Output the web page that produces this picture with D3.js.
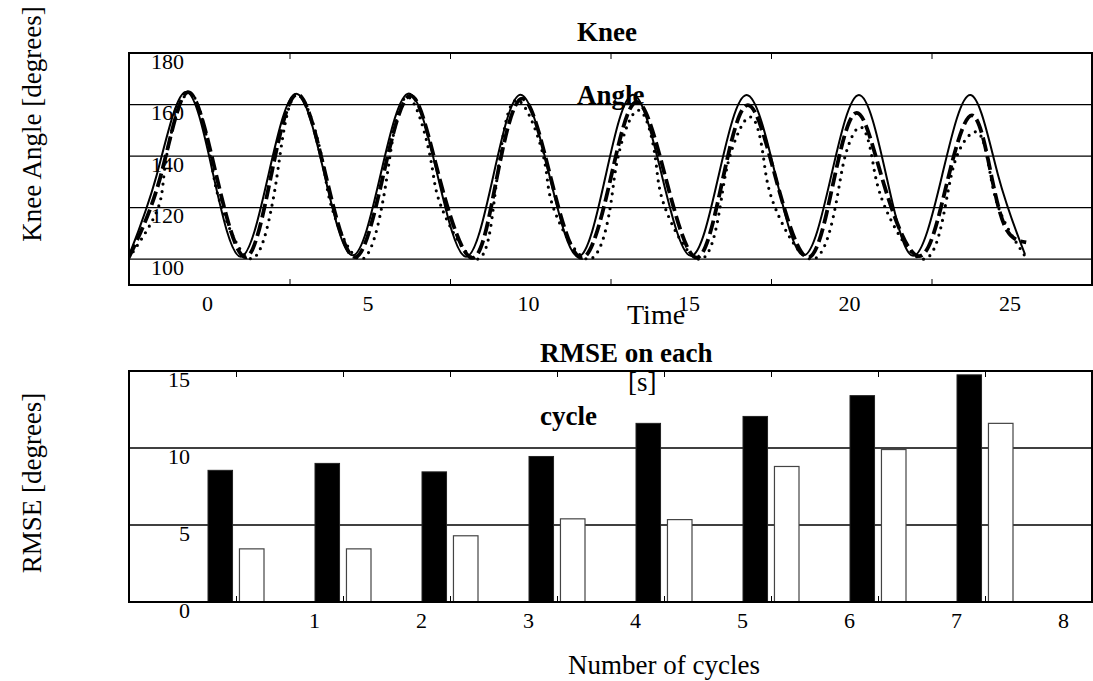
<!DOCTYPE html>
<html>
<head>
<meta charset="utf-8">
<script src="https://cdn.jsdelivr.net/npm/d3@7"></script>
<style>
  body { margin: 0; background: #fff; }
  text { font-family: "Liberation Serif", "Times New Roman", serif; fill: #000; }
</style>
</head>
<body>
<div id="chart"></div>
<script>
// knee angle, [time s, degrees]
const refAngle = [[-5.0,101.5],[-4.13,133],[-3.24,164.9],[-2.38,133],[-1.52,101],[-0.66,132.5],[0.21,164.2],[1.09,132.8],
  [1.97,101.5],[2.84,133],[3.72,164.3],[4.61,132.7],[5.50,101],[6.35,132.4],[7.20,163.8],[8.10,132.4],[9.00,101],
  [9.85,132.4],[10.70,163.8],[11.60,132.5],[12.51,101.3],[13.37,132.5],[14.24,163.7],[15.14,132.6],[16.02,101.5],
  [16.88,132.6],[17.74,163.7],[18.59,132.5],[19.43,101.3],[20.33,132.5],[21.22,163.7],[22.07,132.8],[22.91,102]];
const dashAngle = [[-5.0,100.8],[-4.02,132],[-3.17,164.8],[-2.27,132],[-1.37,100.8],[-0.58,132],[0.24,164],[1.14,132],
  [2.04,100.8],[2.91,132],[3.77,163.5],[4.66,132],[5.69,100.5],[6.45,131],[7.25,162.3],[8.15,131],[9.10,100.5],
  [9.99,130.5],[10.82,161],[11.74,130.5],[12.68,100.6],[13.48,130],[14.28,159.8],[15.18,130],[16.15,100.7],
  [16.92,128.5],[17.67,156.8],[18.52,129],[19.61,101.2],[20.46,128.5],[21.26,155.8],[21.88,131.5],[22.36,111],[22.95,106.5]];
const dotAngle = [[-5.0,100.5],[-4.09,120],[-3.83,140],[-3.12,164.5],[-2.47,140],[-2.11,120],[-1.20,100.2],
  [-0.56,120],[-0.30,140],[0.24,164],[1.00,140],[1.32,120],[2.22,100],[2.87,120],[3.13,140],[3.67,163],[4.38,140],
  [4.74,120],[5.83,100],[6.35,120],[6.56,140],[7.08,161.7],[7.91,140],[8.22,120],[9.31,100],[9.99,120],[10.24,140],
  [10.87,157.8],[11.39,140],[11.70,120],[12.78,100],[13.41,120],[13.72,140],[14.35,155.2],[14.76,140],[15.13,120],
  [16.27,100],[17.00,120],[17.31,140],[17.78,151.3],[18.14,140],[18.56,120],[19.74,100],[20.42,120],[20.79,140],
  [21.36,149.4],[21.73,140],[22.09,120],[22.91,101.3]];
const timeTicks = [0, 5, 10, 15, 20, 25];
const angleTicks = [100, 120, 140, 160, 180];

// RMSE per cycle
const cycles = [1, 2, 3, 4, 5, 6, 7, 8];
const rmseBlack = [8.55, 9.0, 8.45, 9.45, 11.6, 12.05, 13.4, 14.75];
const rmseWhite = [3.45, 3.45, 4.3, 5.4, 5.35, 8.8, 9.9, 11.6];
const rmseTicks = [0, 5, 10, 15];

const width = 1093, height = 681;
const serif = '"Liberation Serif", "Times New Roman", serif';
const svg = d3.select('#chart').append('svg')
    .attr('width', width)
    .attr('height', height);

// d3.axis sets its own font on the group, so set ours after the call
function styleTicks(g, tx, ty) {
    g.attr('font-family', serif).attr('font-size', 22);
    g.select('.domain').remove();
    g.selectAll('text').attr('x', tx).attr('y', ty).attr('dy', 0).attr('fill', '#000');
}

// ---------- top: knee angle ----------
const x = d3.scaleLinear().domain([-5, 25]).range([129, 1092]);
const y = d3.scaleLinear().domain([90, 180]).range([285, 53]);

svg.append('g')
    .selectAll('line')
    .data(angleTicks)
    .enter().append('line')
      .attr('x1', 129).attr('x2', 1092)
      .attr('y1', d => y(d)).attr('y2', d => y(d))
      .attr('stroke', '#000').attr('stroke-width', 1.3);

svg.append('clipPath').attr('id', 'clipTop')
  .append('rect').attr('x', 129).attr('y', 53).attr('width', 963).attr('height', 232);

const line = d3.line()
    .x(d => x(d[0]))
    .y(d => y(d[1]))
    .curve(d3.curveNatural);

const curves = svg.append('g').attr('clip-path', 'url(#clipTop)');
curves.append('path').datum(refAngle)
    .attr('d', line).attr('fill', 'none')
    .attr('stroke', '#000').attr('stroke-width', 2);
curves.append('path').datum(dashAngle)
    .attr('d', line).attr('fill', 'none')
    .attr('stroke', '#000').attr('stroke-width', 3.8)
    .attr('stroke-dasharray', '14,5');
curves.append('path').datum(dotAngle)
    .attr('d', line).attr('fill', 'none')
    .attr('stroke', '#000').attr('stroke-width', 3.2)
    .attr('stroke-linecap', 'round')
    .attr('stroke-dasharray', '0,7.5');

// x axis (labels sit left of their tick marks, as in the picture)
svg.append('g')
    .attr('transform', `translate(0,285)`)
    .call(d3.axisBottom(x).tickValues(timeTicks).tickSizeInner(-6).tickSizeOuter(0))
    .call(styleTicks, -82.5, 26);

svg.append('g')
    .attr('transform', `translate(0,53)`)
    .call(d3.axisTop(x).tickValues(timeTicks).tickSizeInner(-6).tickSizeOuter(0).tickFormat(''))
    .call(g => g.select('.domain').remove());

svg.append('g')
    .attr('transform', `translate(129,0)`)
    .call(d3.axisLeft(y).tickValues(angleTicks).tickSize(0))
    .call(styleTicks, 55, 15);

svg.append('rect')
    .attr('x', 129).attr('y', 53).attr('width', 963).attr('height', 232)
    .attr('fill', 'none').attr('stroke', '#000').attr('stroke-width', 2);

svg.append('text').attr('x', 577).attr('y', 41)
    .style('font-size', '27px').style('font-weight', 'bold').text('Knee');
svg.append('text').attr('x', 577).attr('y', 104)
    .style('font-size', '27px').style('font-weight', 'bold').text('Angle');

svg.append('text').attr('x', 627).attr('y', 324)
    .style('font-size', '28px').text('Time');
svg.append('text').attr('x', 628).attr('y', 391)
    .style('font-size', '27px').text('[s]');

svg.append('text')
    .attr('transform', 'translate(41,124) rotate(-90)')
    .attr('text-anchor', 'middle')
    .style('font-size', '27px').text('Knee Angle [degrees]');

// ---------- bottom: RMSE ----------
const xb = d3.scaleLinear().domain([0, 9]).range([129, 1092]);
const yb = d3.scaleLinear().domain([0, 15]).range([602, 371]);
const sub = d3.scaleBand().domain(['black', 'white']).range([-28, 28]).paddingInner(0.22);

svg.append('g')
    .selectAll('line')
    .data(rmseTicks)
    .enter().append('line')
      .attr('x1', 129).attr('x2', 1092)
      .attr('y1', d => yb(d)).attr('y2', d => yb(d))
      .attr('stroke', '#000').attr('stroke-width', 1.3);

svg.selectAll('rect.black')
    .data(cycles.map((c, i) => ({c: c, v: rmseBlack[i]})))
    .enter().append('rect')
      .attr('class', 'black')
      .attr('x', d => xb(d.c) + sub('black'))
      .attr('y', d => yb(d.v))
      .attr('width', sub.bandwidth())
      .attr('height', d => yb(0) - yb(d.v))
      .attr('fill', '#000').attr('stroke', '#222').attr('stroke-width', 1);

svg.selectAll('rect.white')
    .data(cycles.map((c, i) => ({c: c, v: rmseWhite[i]})))
    .enter().append('rect')
      .attr('class', 'white')
      .attr('x', d => xb(d.c) + sub('white'))
      .attr('y', d => yb(d.v))
      .attr('width', sub.bandwidth())
      .attr('height', d => yb(0) - yb(d.v))
      .attr('fill', '#fff').attr('stroke', '#444').attr('stroke-width', 1.2);

svg.append('g')
    .attr('transform', `translate(0,602)`)
    .call(d3.axisBottom(xb).tickValues(cycles).tickSizeInner(-6).tickSizeOuter(0))
    .call(styleTicks, 78, 26);

svg.append('g')
    .attr('transform', `translate(0,371)`)
    .call(d3.axisTop(xb).tickValues(cycles).tickSizeInner(-6).tickSizeOuter(0).tickFormat(''))
    .call(g => g.select('.domain').remove());

svg.append('g')
    .attr('transform', `translate(129,0)`)
    .call(d3.axisLeft(yb).tickValues(rmseTicks).tickSize(0))
    .call(styleTicks, 61, 15);

svg.append('rect')
    .attr('x', 129).attr('y', 371).attr('width', 963).attr('height', 231)
    .attr('fill', 'none').attr('stroke', '#000').attr('stroke-width', 2);

svg.append('text').attr('x', 540).attr('y', 362)
    .style('font-size', '27px').style('font-weight', 'bold').text('RMSE on each');
svg.append('text').attr('x', 540).attr('y', 425)
    .style('font-size', '27px').style('font-weight', 'bold').text('cycle');

svg.append('text').attr('x', 568).attr('y', 674)
    .style('font-size', '27px').text('Number of cycles');

svg.append('text')
    .attr('transform', 'translate(41,483) rotate(-90)')
    .attr('text-anchor', 'middle')
    .style('font-size', '27px').text('RMSE [degrees]');
</script>
</body>
</html>
